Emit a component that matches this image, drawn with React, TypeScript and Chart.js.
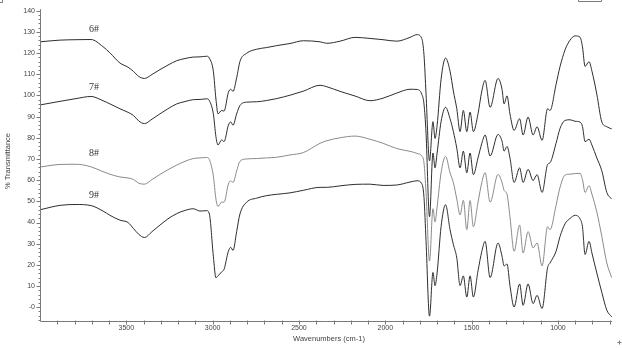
import { useEffect, useRef } from 'react';
import { Chart, registerables } from 'chart.js';

Chart.register(...registerables);

// Wavenumbers (cm-1) at which the spectra were read
const wavenumbers = [
  4000, 3884, 3791, 3705, 3635, 3595, 3537, 3490, 3458, 3429,
  3395, 3351, 3305, 3259, 3208, 3160, 3112, 3073, 3034, 3019,
  2996, 2981, 2969, 2948, 2934, 2909, 2895, 2882, 2861, 2842,
  2803, 2745, 2687, 2629, 2552, 2475, 2378, 2339, 2262, 2175,
  2089, 2013, 1934, 1857, 1816, 1789, 1776, 1764, 1744, 1724,
  1712, 1700, 1677, 1651, 1625, 1606, 1586, 1567, 1548, 1528,
  1509, 1490, 1463, 1441, 1422, 1393, 1347, 1324, 1312, 1295,
  1278, 1254, 1222, 1202, 1173, 1144, 1121, 1092, 1060, 1046,
  1011, 988, 959, 930, 901, 872, 858, 843, 820, 803,
  775, 746, 717, 689,
];

// % Transmittance of each sample
const t6 = [
  125.3, 126.1, 126.3, 126.4, 123.0, 120.1, 115.3, 113.3, 111.3, 109.0,
  108.0, 109.9, 112.2, 114.3, 116.4, 117.4, 118.1, 118.2, 118.5, 117.6,
  111.4, 98.3, 91.3, 92.9, 92.6, 101.4, 102.9, 101.9, 108.3, 116.0,
  119.9, 121.8, 122.6, 123.5, 124.5, 125.8, 125.3, 124.6, 125.6, 127.4,
  126.9, 126.3, 125.6, 127.4, 128.7, 126.9, 119.2, 100.6, 69.1, 87.6,
  79.7, 85.8, 107.6, 117.6, 111.4, 102.1, 93.7, 82.9, 92.9, 82.9,
  92.1, 82.9, 91.3, 102.1, 107.1, 94.4, 108.0, 102.9, 96.0, 99.8,
  91.3, 83.5, 89.0, 81.3, 89.8, 81.3, 85.2, 78.8, 93.7, 92.9,
  105.2, 113.6, 121.5, 126.1, 128.1, 127.5, 122.9, 113.7, 115.9, 111.4,
  100.6, 87.5, 85.2, 84.2,
];
const t7 = [
  95.5, 97.2, 98.5, 99.5, 97.5, 96.0, 93.7, 92.0, 90.5, 88.0,
  86.7, 88.8, 91.3, 93.7, 96.0, 97.1, 98.0, 98.1, 98.4, 97.5,
  91.3, 80.5, 76.6, 79.0, 78.2, 85.9, 87.5, 85.9, 91.3, 95.2,
  96.8, 97.0, 97.6, 98.5, 100.1, 102.0, 104.8, 104.1, 101.9, 99.7,
  97.5, 98.7, 101.1, 102.9, 102.8, 100.6, 96.0, 82.1, 42.7, 72.8,
  65.8, 72.8, 87.6, 94.4, 89.0, 83.0, 75.1, 65.8, 73.7, 63.5,
  72.8, 62.6, 70.5, 77.4, 81.3, 71.4, 81.6, 78.4, 73.7, 75.9,
  70.5, 58.9, 65.8, 58.9, 65.1, 59.8, 62.6, 54.2, 67.4, 68.2,
  77.4, 84.4, 88.2, 88.5, 87.8, 87.4, 85.3, 78.2, 79.3, 76.5,
  70.5, 64.4, 54.2, 51.1,
];
const t8 = [
  66.2, 67.4, 67.5, 66.3, 64.0, 62.8, 61.5, 61.0, 60.3, 58.6,
  58.1, 60.3, 62.7, 64.9, 67.1, 68.9, 70.2, 70.5, 70.7, 69.7,
  62.0, 51.1, 47.6, 49.6, 49.6, 58.1, 59.7, 58.9, 64.3, 68.9,
  70.0, 70.2, 70.5, 70.8, 71.9, 73.0, 77.4, 78.6, 80.0, 80.8,
  79.3, 77.4, 74.9, 73.6, 72.6, 71.4, 68.2, 54.2, 21.8, 46.5,
  40.3, 47.3, 63.5, 71.2, 63.5, 58.9, 51.1, 43.6, 50.5, 36.6,
  50.4, 38.0, 49.6, 58.9, 63.5, 49.6, 62.7, 58.9, 55.2, 53.3,
  42.7, 26.4, 38.8, 25.6, 35.7, 28.0, 30.3, 19.5, 38.0, 36.6,
  48.1, 56.6, 62.4, 62.8, 63.1, 63.2, 60.3, 54.2, 57.4, 53.3,
  45.0, 33.4, 20.9, 14.0,
];
const t9 = [
  46.0, 48.1, 48.5, 48.0, 45.4, 43.4, 41.1, 40.0, 37.1, 34.5,
  32.9, 35.7, 38.8, 41.7, 44.2, 45.7, 46.5, 45.4, 45.6, 44.0,
  24.1, 13.9, 14.8, 16.7, 17.9, 26.4, 28.3, 26.8, 35.7, 44.0,
  49.6, 51.5, 52.7, 53.3, 54.0, 55.2, 56.6, 56.6, 57.3, 58.0,
  58.1, 57.5, 57.7, 59.1, 59.7, 58.4, 51.9, 31.1, -4.2, 16.4,
  10.2, 16.2, 38.0, 48.4, 36.6, 29.7, 23.3, 10.2, 14.8, 4.8,
  14.8, 4.8, 17.2, 26.4, 31.1, 14.0, 30.3, 24.1, 19.5, 20.4,
  10.2, 0.1, 11.0, 0.9, 11.0, 1.7, 5.6, -0.6, 18.7, 20.9,
  26.4, 33.4, 39.4, 41.9, 43.4, 41.7, 38.0, 24.9, 31.1, 25.5,
  16.2, 7.0, -1.4, -4.5,
];

const seriesNames = ['6#', '7#', '8#', '9#'];
const seriesValues = [t6, t7, t8, t9];
const seriesColors = ['#2e2e2e', '#2e2e2e', '#8a8a8a', '#2e2e2e'];
const labelWavenumber = 3687;
const labelValues = [131.2, 103.8, 72.8, 52.9];

const xLabelTicks = [3500, 3000, 2500, 2000, 1500, 1000];
const yLabelTicks = [0, 10, 20, 30, 40, 50, 60, 70, 80, 90, 100, 110, 120, 130, 140];
const xMin = 687;
const xMax = 4000;
const yMin = -6.5;
const yMax = 140.7;

const overlayPlugin = {
  id: 'irOverlay',
  afterDraw(chart: any) {
    const ctx = chart.ctx as CanvasRenderingContext2D;
    const { left, right, top, bottom } = chart.chartArea;
    const xs = chart.scales.x;
    const ys = chart.scales.y;
    ctx.save();
    ctx.strokeStyle = '#7a7a7a';
    ctx.lineWidth = 1;
    ctx.beginPath();
    const lx = Math.round(left) + 0.5;
    const by = Math.round(bottom) + 0.5;
    ctx.moveTo(lx, top);
    ctx.lineTo(lx, by);
    ctx.lineTo(right, by);
    for (let v = -6; v <= 140; v += 2) {
      const y = Math.round(ys.getPixelForValue(v)) + 0.5;
      const len = v % 10 === 0 ? 4 : 2;
      ctx.moveTo(lx - len, y);
      ctx.lineTo(lx, y);
    }
    for (let w = 700; w < 4000; w += 100) {
      const x = Math.round(xs.getPixelForValue(w)) + 0.5;
      ctx.moveTo(x, by - 1);
      ctx.lineTo(x, by + 3);
    }
    // clipped legend frame at top right and small marks
    ctx.moveTo(578.5, 0);
    ctx.lineTo(578.5, 1.5);
    ctx.lineTo(601.5, 1.5);
    ctx.lineTo(601.5, 0);
    ctx.moveTo(0, 2.5);
    ctx.lineTo(2.5, 2.5);
    ctx.lineTo(2.5, 0);
    ctx.moveTo(617.5, 342.5);
    ctx.lineTo(621.5, 342.5);
    ctx.moveTo(619.5, 340.5);
    ctx.lineTo(619.5, 344.5);
    ctx.stroke();

    // sample labels
    ctx.fillStyle = '#333';
    ctx.font = '10px "Liberation Serif", serif';
    ctx.textAlign = 'center';
    ctx.textBaseline = 'middle';
    seriesNames.forEach((name, i) => {
      ctx.fillText(name, xs.getPixelForValue(labelWavenumber), ys.getPixelForValue(labelValues[i]));
    });

    // axis titles
    ctx.fillStyle = '#444';
    ctx.font = '7.5px "Liberation Sans", Arial, sans-serif';
    ctx.fillText('Wavenumbers (cm-1)', 329, 339);
    ctx.translate(8, 161);
    ctx.rotate(-Math.PI / 2);
    ctx.fillText('% Transmittance', 0, 0);
    ctx.restore();
  },
};

export default function App() {
  const canvasRef = useRef<HTMLCanvasElement | null>(null);

  useEffect(() => {
    if (!canvasRef.current) return;
    const tickFont = { family: '"Liberation Sans", Arial, sans-serif', size: 7 };
    const chart = new Chart(canvasRef.current, {
      type: 'line',
      data: {
        datasets: seriesNames.map((name, i) => ({
          label: name,
          data: wavenumbers.map((w, j) => ({ x: w, y: seriesValues[i][j] })),
          borderColor: seriesColors[i],
          borderWidth: 1,
          pointRadius: 0,
          fill: false,
          cubicInterpolationMode: 'monotone' as const,
        })),
      },
      options: {
        animation: false,
        responsive: false,
        devicePixelRatio: 1,
        layout: { padding: { left: 0, right: 10, top: 3, bottom: 0 } },
        plugins: { legend: { display: false }, tooltip: { enabled: false } },
        scales: {
          x: {
            type: 'linear',
            reverse: true,
            min: xMin,
            max: xMax,
            afterBuildTicks: (s: any) => {
              s.ticks = xLabelTicks.map((v) => ({ value: v }));
            },
            afterFit: (s: any) => {
              s.height = 27;
            },
            grid: { display: false, drawTicks: false },
            border: { display: false },
            ticks: {
              padding: 3,
              font: tickFont,
              color: '#444',
              maxRotation: 0,
              autoSkip: false,
              callback: (v: any) => String(v),
            },
          },
          y: {
            type: 'linear',
            min: yMin,
            max: yMax,
            afterBuildTicks: (s: any) => {
              s.ticks = yLabelTicks.map((v) => ({ value: v }));
            },
            afterFit: (s: any) => {
              s.width = 40;
            },
            grid: { display: false, drawTicks: false },
            border: { display: false },
            ticks: {
              padding: 5,
              font: tickFont,
              color: '#444',
              autoSkip: false,
              callback: (v: any) => (Number(v) === 0 ? '-0' : String(v)),
            },
          },
        },
      },
      plugins: [overlayPlugin],
    });
    return () => chart.destroy();
  }, []);

  return (
    <div style={{ position: 'absolute', left: 0, top: 0, width: 622, height: 348 }}>
      <canvas ref={canvasRef} width={622} height={348} />
    </div>
  );
}
